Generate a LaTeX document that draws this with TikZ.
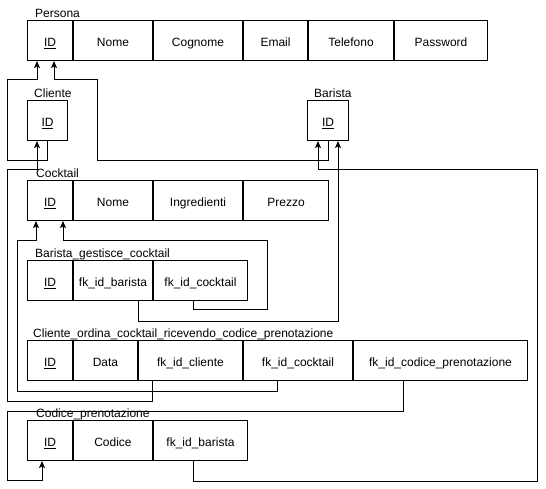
\documentclass[tikz,border=0pt]{standalone}
\usepackage{fontspec}
\setmainfont{Liberation Sans}
\usetikzlibrary{arrows.meta}
\begin{document}
\begin{tikzpicture}[x=1pt,y=-1pt,
  every node/.style={font=\fontsize{12}{14}\selectfont},
  cell/.style={draw, line width=1pt, anchor=north west, minimum height=40pt,
    inner sep=0pt, text height=14pt, text depth=2pt},
  title/.style={anchor=west, inner sep=0pt, text height=13pt, text depth=2pt},
  fk/.style={line width=1pt, -{Stealth[length=7pt,width=6pt,inset=1.5pt]}},
]
\useasboundingbox[fill=white] (0,0) rectangle (546,489);

% Persona
\node[title] (t-pe) at (35,12) {Persona};
\node[cell, minimum width=45] (pe-id) at (27,20) {\underline{ID}};
\node[cell, minimum width=79] (pe-nome) at (73,20) {Nome};
\node[cell, minimum width=89] (pe-cog) at (153,20) {Cognome};
\node[cell, minimum width=64] (pe-mail) at (243,20) {Email};
\node[cell, minimum width=85] (pe-tel) at (308,20) {Telefono};
\node[cell, minimum width=93] (pe-pwd) at (394,20) {Password};

% Cliente
\node[title] (t-cl) at (34,92) {Cliente};
\node[cell, minimum width=40] (cl-id) at (27,100) {\underline{ID}};

% Barista
\node[title] (t-ba) at (314,92) {Barista};
\node[cell, minimum width=41] (ba-id) at (307,100) {\underline{ID}};

% Cocktail
\node[title] (t-ct) at (36,172) {Cocktail};
\node[cell, minimum width=45] (ct-id) at (27,180) {\underline{ID}};
\node[cell, minimum width=79] (ct-nome) at (73,180) {Nome};
\node[cell, minimum width=89] (ct-ing) at (153,180) {Ingredienti};
\node[cell, minimum width=85] (ct-prezzo) at (243,180) {Prezzo};

% Barista_gestisce_cocktail
\node[title] (t-bg) at (35,252) {Barista\_gestisce\_cocktail};
\node[cell, minimum width=45] (bg-id) at (27,260) {\underline{ID}};
\node[cell, minimum width=79] (bg-fkb) at (73,260) {fk\_id\_barista};
\node[cell, minimum width=94] (bg-fkc) at (153,260) {fk\_id\_cocktail};

% Cliente_ordina_cocktail_ricevendo_codice_prenotazione
\node[title] (t-co) at (33,332) {Cliente\_ordina\_cocktail\_ricevendo\_codice\_prenotazione};
\node[cell, minimum width=45] (co-id) at (27,340) {\underline{ID}};
\node[cell, minimum width=64] (co-data) at (73,340) {Data};
\node[cell, minimum width=104] (co-fkcl) at (138,340) {fk\_id\_cliente};
\node[cell, minimum width=109] (co-fkct) at (243,340) {fk\_id\_cocktail};
\node[cell, minimum width=174] (co-fkcp) at (353,340) {fk\_id\_codice\_prenotazione};

% Codice_prenotazione
\node[title] (t-cp) at (36,412) {Codice\_prenotazione};
\node[cell, minimum width=45] (cp-id) at (27,420) {\underline{ID}};
\node[cell, minimum width=79] (cp-cod) at (73,420) {Codice};
\node[cell, minimum width=94] (cp-fkb) at (153,420) {fk\_id\_barista};

% Foreign keys
\draw[fk] (cl-id.south) -- ++(0,20) -| (7,80) -| ([xshift=10]pe-id.south west);
\draw[fk] (ba-id.south) -- ++(0,20) -| (97,80) -| ([xshift=27]pe-id.south west);
\draw[fk] ([xshift=14]co-fkcl.south west) -- ++(0,20) -| (7,170) -| ([xshift=10]cl-id.south west);
\draw[fk] ([xshift=65]bg-fkb.south west) -- ++(0,20) -| ([xshift=31]ba-id.south west);
\draw[fk] ([xshift=40]cp-fkb.south west) -- ++(0,20) -| (537,170) -| ([xshift=11]ba-id.south west);
\draw[fk] ([xshift=40]bg-fkc.south west) -- ++(0,8) -| (267,240) -| ([xshift=36]ct-id.south west);
\draw[fk] ([xshift=34]co-fkct.south west) -- ++(0,10) -| (17,240) -| ([xshift=9]ct-id.south west);
\draw[fk] ([xshift=50]co-fkcp.south west) -- ++(0,30) -| (7,480) -| ([xshift=15]cp-id.south west);
\end{tikzpicture}
\end{document}
